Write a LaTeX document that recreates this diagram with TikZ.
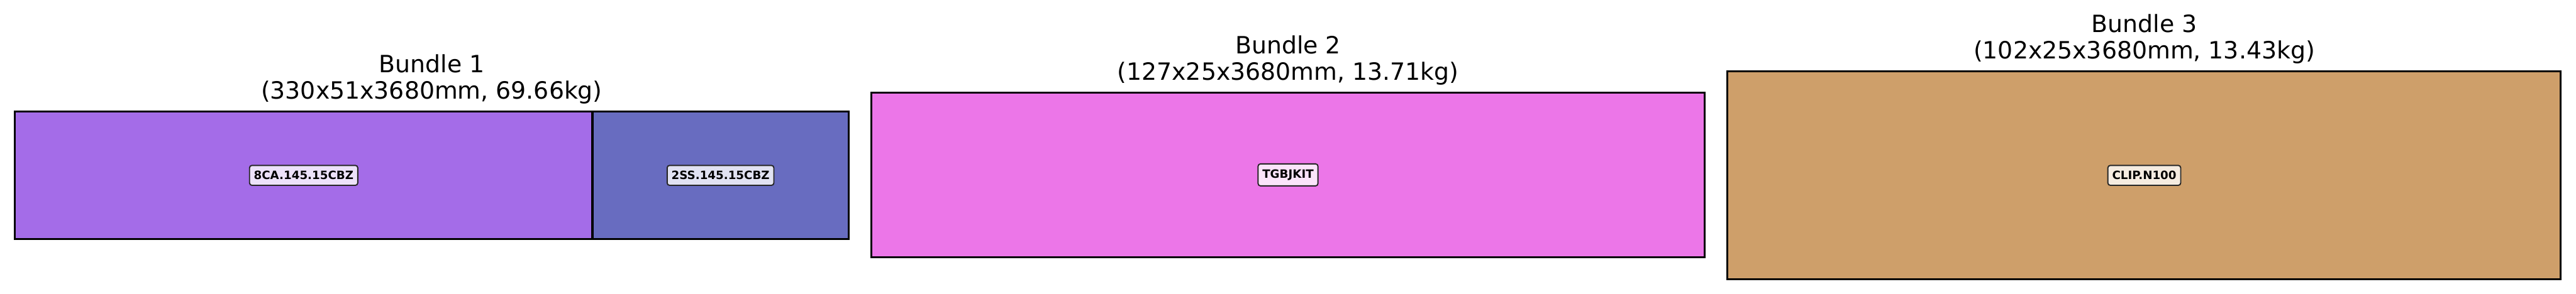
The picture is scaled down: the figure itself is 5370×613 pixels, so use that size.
\documentclass[tikz,border=0pt]{standalone}
\usepackage{fontspec}
\setmainfont{DejaVu Sans}
\definecolor{segpurple}{RGB}{164,108,232}
\definecolor{segblue}{RGB}{104,108,192}
\definecolor{segpink}{RGB}{236,118,232}
\definecolor{segtan}{RGB}{206,159,106}
\tikzset{
	seg/.style={draw=black, line width=0.04cm},
	tag/.style={draw=black!85, line width=0.025cm, rounded corners=0.05cm, inner xsep=0.09cm, minimum height=0.41cm, font=\bfseries\fontsize{6.8}{8}\selectfont},
	ttl/.style={align=center, anchor=south, inner sep=0pt, font=\fontsize{14.1}{15.65}\selectfont}
}
\begin{document}
\begin{tikzpicture}[x=0.01cm, y=0.01cm]
	\useasboundingbox (0,0) rectangle (5370,613);
	
	% 1. 第一捆：两段截面
	\filldraw[seg, fill=segpurple] (31,114) rectangle (1235,380);
	\filldraw[seg, fill=segblue] (1235,114) rectangle (1769,380);
	\node[ttl] (b1title) at (900,395) {Bundle 1\\(330x51x3680mm, 69.66kg)};
	\node[tag, fill=segpurple!20!white] (p8ca) at (633,247) {8CA.145.15CBZ};
	\node[tag, fill=segblue!20!white] (p2ss) at (1502,247) {2SS.145.15CBZ};
	
	% 2. 第二捆
	\filldraw[seg, fill=segpink] (1816,76) rectangle (3554,420);
	\node[ttl] (b2title) at (2685,435) {Bundle 2\\(127x25x3680mm, 13.71kg)};
	\node[tag, fill=segpink!20!white] (ptgb) at (2685,248) {TGBJKIT};
	
	% 3. 第三捆
	\filldraw[seg, fill=segtan] (3601,30) rectangle (5338,464);
	\node[ttl] (b3title) at (4470,479) {Bundle 3\\(102x25x3680mm, 13.43kg)};
	\node[tag, fill=segtan!20!white] (pclip) at (4470,247) {CLIP.N100};
\end{tikzpicture}
\end{document}
